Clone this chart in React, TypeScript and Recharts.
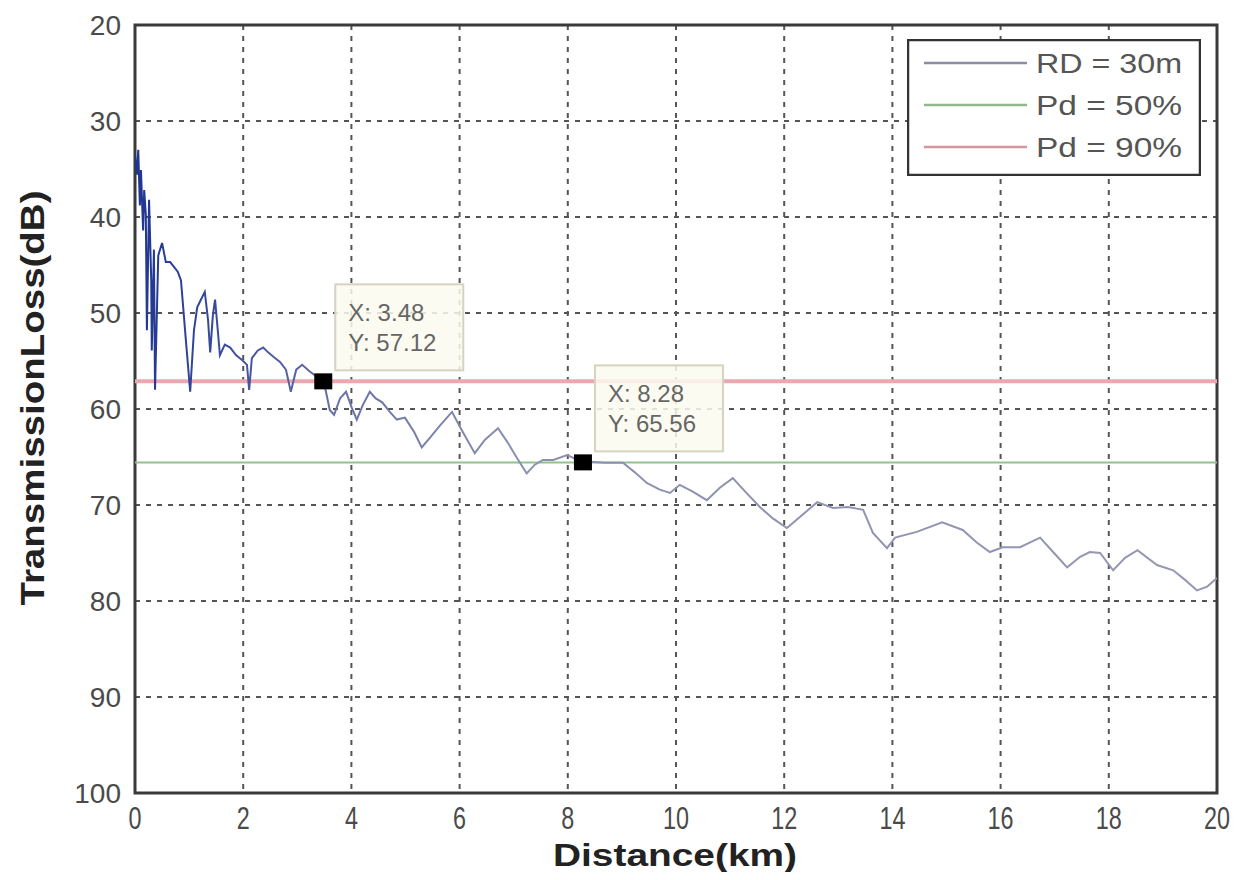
import React from "react";
import {
  LineChart,
  Line,
  XAxis,
  YAxis,
  CartesianGrid,
  ReferenceLine,
  ReferenceDot,
  ReferenceArea,
  Legend,
} from "recharts";

// distance (km) and transmission loss (dB)
const KM = [
  0, 0.04, 0.06, 0.09, 0.11, 0.15, 0.17, 0.2, 0.22, 0.26, 0.3, 0.31, 0.35, 0.37, 0.43, 0.5, 0.57,
  0.65, 0.72, 0.79, 0.85, 0.94, 1.02, 1.09, 1.15, 1.22, 1.29, 1.35, 1.39, 1.44, 1.48, 1.53, 1.57,
  1.66, 1.76, 1.87, 1.98, 2.07, 2.11, 2.16, 2.27, 2.37, 2.46, 2.57, 2.68, 2.79, 2.88, 2.98, 3.09,
  3.23, 3.48, 3.53, 3.6, 3.68, 3.79, 3.9, 4.01, 4.1, 4.21, 4.34, 4.45, 4.57, 4.71, 4.84, 4.99,
  5.16, 5.3, 5.45, 5.64, 5.86, 6.01, 6.14, 6.28, 6.47, 6.71, 6.89, 7.06, 7.24, 7.39, 7.54, 7.73,
  7.99, 8.28, 8.41, 8.69, 9.02, 9.24, 9.46, 9.7, 9.89, 10.07, 10.31, 10.57, 10.81, 11.05, 11.28,
  11.55, 11.79, 12.05, 12.29, 12.61, 12.9, 13.18, 13.46, 13.64, 13.9, 14.05, 14.45, 14.92, 15.3,
  15.56, 15.8, 16.04, 16.36, 16.73, 16.97, 17.23, 17.47, 17.65, 17.84, 18.08, 18.3, 18.53, 18.89,
  19.19, 19.41, 19.63, 19.82, 20,
];
const TL = [
  33.5, 35.6, 33.0, 38.8, 35.1, 41.4, 37.2, 39.8, 51.8, 38.2, 46.6, 53.9, 43.4, 58.0, 44.0, 42.7,
  44.7, 44.7, 45.2, 45.7, 46.6, 52.8, 58.2, 51.8, 49.4, 48.6, 47.8, 50.7, 54.1, 50.2, 48.6, 51.8,
  54.4, 53.3, 53.6, 54.4, 54.9, 55.4, 58.0, 54.7, 53.9, 53.6, 54.1, 54.6, 55.1, 55.9, 58.2, 55.9,
  55.4, 56.1, 57.12, 58.2, 60.1, 60.6, 58.9, 58.2, 59.9, 61.1, 59.6, 58.2, 58.9, 59.3, 60.3, 61.1,
  60.9, 62.4, 64.0, 63.0, 61.7, 60.3, 61.9, 63.2, 64.6, 63.2, 62.0, 63.5, 65.1, 66.7, 65.8, 65.3,
  65.3, 64.8, 65.56, 65.5, 65.6, 65.6, 66.6, 67.7, 68.4, 68.75, 67.9, 68.6, 69.5, 68.2, 67.2, 68.6,
  70.2, 71.4, 72.4, 71.25, 69.7, 70.3, 70.2, 70.5, 72.9, 74.5, 73.4, 72.8, 71.8, 72.6, 73.9, 74.9,
  74.4, 74.4, 73.4, 74.9, 76.5, 75.4, 74.9, 75.0, 76.8, 75.5, 74.7, 76.25, 76.8, 77.8, 78.9, 78.5,
  77.6,
];

const X_TICKS = [0, 2, 4, 6, 8, 10, 12, 14, 16, 18, 20];
const Y_TICKS = [20, 30, 40, 50, 60, 70, 80, 90, 100];

const PD50 = 65.56;
const PD90 = 57.12;
const TIPS = [
  { x: 3.48, y: 57.12 },
  { x: 8.28, y: 65.56 },
];

const LEGEND = [
  { label: "RD = 30m", color: "#8a8ca4" },
  { label: "Pd = 50%", color: "#8fb98a" },
  { label: "Pd = 90%", color: "#d8949c" },
];

const data = KM.map((km, i) => ({ km, tl: TL[i] }));

const FONT = "'Liberation Sans', Arial, sans-serif";
const GRID = "#555";
const TEXT = "#4a4a4a";

function XTick({ x, y, payload }: any) {
  const s = String(payload.value);
  return (
    <text x={x} y={y + 28} textAnchor="middle" fontFamily={FONT} fontSize={31} fill={TEXT}
      textLength={s.length * 13} lengthAdjust="spacingAndGlyphs">
      {s}
    </text>
  );
}

function YTick({ x, y, payload }: any) {
  const s = String(payload.value);
  return (
    <text x={x} y={y + 10} textAnchor="end" fontFamily={FONT} fontSize={28} fill={TEXT}>
      {s}
    </text>
  );
}

function DataTip(props: any) {
  const { cx, cy, tip } = props;
  return (
    <g>
      <rect x={cx + 12} y={cy - 97} width={128} height={86} fill="#fbfaee" fillOpacity={0.85}
        stroke="#d6d3c0" strokeWidth={2} />
      <text x={cx + 25} y={cy - 60} fontFamily={FONT} fontSize={24} fill="#666">
        {`X: ${tip.x.toFixed(2)}`}
      </text>
      <text x={cx + 25} y={cy - 30} fontFamily={FONT} fontSize={24} fill="#666">
        {`Y: ${tip.y.toFixed(2)}`}
      </text>
      <rect x={cx - 9} y={cy - 8} width={18} height={16} fill="#000" />
    </g>
  );
}

function LegendBox() {
  return (
    <svg width={294} height={137} style={{ display: "block" }}>
      <rect x={1} y={1} width={292} height={135} fill="#fff" stroke="#333" strokeWidth={2.5} />
      {LEGEND.map((it, i) => {
        const cy = 24 + i * 42;
        return (
          <g key={it.label}>
            <line x1={17} x2={120} y1={cy} y2={cy} stroke={it.color} strokeWidth={2.5} />
            <text x={129} y={cy + 10} fontFamily={FONT} fontSize={28} fill="#555"
              textLength={146} lengthAdjust="spacingAndGlyphs">
              {it.label}
            </text>
          </g>
        );
      })}
    </svg>
  );
}

export default function App() {
  return (
    <div style={{ width: 1233, height: 864, background: "#fff", position: "relative" }}>
      <LineChart width={1233} height={864} data={data}
        margin={{ top: 17, right: 24, bottom: 29, left: 67 }}>
        <defs>
          <linearGradient id="rdStroke" x1="0" y1="0" x2="1" y2="0">
            <stop offset="0%" stopColor="#1f3590" />
            <stop offset="8%" stopColor="#3a4c9e" />
            <stop offset="18%" stopColor="#6670a6" />
            <stop offset="35%" stopColor="#8c90b0" />
            <stop offset="100%" stopColor="#9597b4" />
          </linearGradient>
        </defs>
        <CartesianGrid stroke={GRID} strokeDasharray="5 6" strokeWidth={2} />
        <XAxis dataKey="km" type="number" domain={[0, 20]} ticks={X_TICKS} allowDataOverflow
          height={50} axisLine={false} tickLine={false} tick={<XTick />} interval={0}
          label={{
            content: () => (
              <text x={667} y={858} textAnchor="middle" fontFamily={FONT} fontWeight="bold"
                fontSize={32} fill="#222" textLength={244} lengthAdjust="spacingAndGlyphs">
                Distance(km)
              </text>
            ),
          }} />
        <YAxis type="number" domain={[20, 100]} reversed ticks={Y_TICKS} width={60}
          axisLine={false} tickLine={false} tickSize={0} tickMargin={14} tick={<YTick />}
          interval={0}
          label={{
            content: () => (
              <text x={0} y={0} transform="translate(36 390) rotate(-90)" textAnchor="middle"
                fontFamily={FONT} fontWeight="bold" fontSize={34} fill="#222" textLength={415}
                lengthAdjust="spacingAndGlyphs">
                TransmissionLoss(dB)
              </text>
            ),
          }} />
        <ReferenceLine y={PD90} stroke="#eaa9b0" strokeWidth={4} />
        <ReferenceLine y={PD50} stroke="#92c28d" strokeWidth={2} />
        <Line dataKey="tl" type="linear" stroke="url(#rdStroke)" strokeWidth={2} dot={false}
          isAnimationActive={false} />
        <ReferenceArea x1={0} x2={20} y1={20} y2={100} fill="none" fillOpacity={0}
          stroke="#3a3a3a" strokeWidth={3} />
        {TIPS.map((t) => (
          <ReferenceDot key={t.x} x={t.x} y={t.y} r={9}
            shape={(p: any) => <DataTip {...p} tip={t} />} />
        ))}
        <Legend layout="vertical" align="center" verticalAlign="middle"
          wrapperStyle={{ left: 899, top: 31, width: 294, height: 137 }}
          content={() => <LegendBox />} />
      </LineChart>
    </div>
  );
}
